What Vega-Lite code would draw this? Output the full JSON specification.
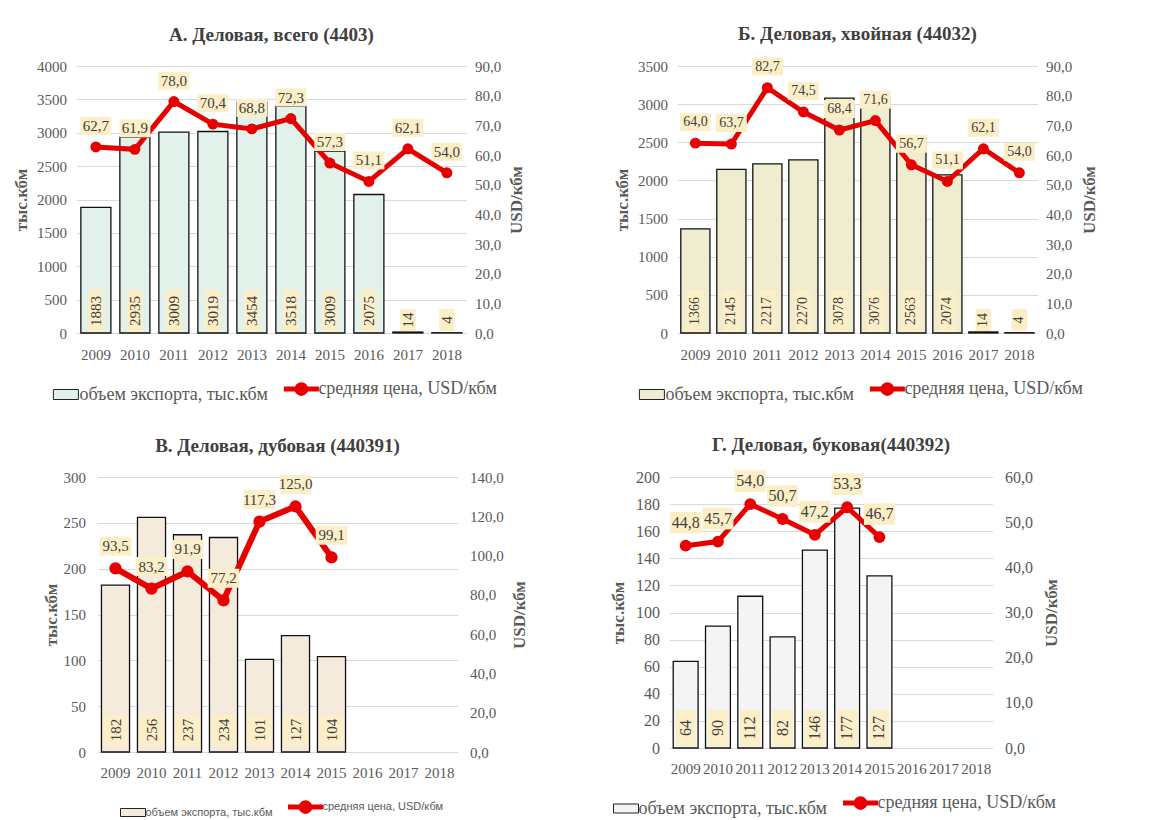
{
  "$schema": "https://vega.github.io/schema/vega-lite/v6.json",
  "padding": {"left": 12, "top": 24, "right": 5, "bottom": 5},
  "datasets": {
    "a": [
      {"year": 2009, "vol": 1883, "volLabel": 1883, "price": 62.7},
      {"year": 2010, "vol": 2935, "volLabel": 2935, "price": 61.9},
      {"year": 2011, "vol": 3009, "volLabel": 3009, "price": 78.0},
      {"year": 2012, "vol": 3019, "volLabel": 3019, "price": 70.4},
      {"year": 2013, "vol": 3454, "volLabel": 3454, "price": 68.8},
      {"year": 2014, "vol": 3400, "volLabel": 3518, "price": 72.3},
      {"year": 2015, "vol": 2725, "volLabel": 3009, "price": 57.3},
      {"year": 2016, "vol": 2075, "volLabel": 2075, "price": 51.1},
      {"year": 2017, "vol": 14, "volLabel": 14, "price": 62.1},
      {"year": 2018, "vol": 4, "volLabel": 4, "price": 54.0}
    ],
    "b": [
      {"year": 2009, "vol": 1366, "volLabel": 1366, "price": 64.0},
      {"year": 2010, "vol": 2145, "volLabel": 2145, "price": 63.7},
      {"year": 2011, "vol": 2217, "volLabel": 2217, "price": 82.7},
      {"year": 2012, "vol": 2270, "volLabel": 2270, "price": 74.5},
      {"year": 2013, "vol": 3078, "volLabel": 3078, "price": 68.4},
      {"year": 2014, "vol": 3076, "volLabel": 3076, "price": 71.6},
      {"year": 2015, "vol": 2563, "volLabel": 2563, "price": 56.7},
      {"year": 2016, "vol": 2074, "volLabel": 2074, "price": 51.1},
      {"year": 2017, "vol": 14, "volLabel": 14, "price": 62.1},
      {"year": 2018, "vol": 4, "volLabel": 4, "price": 54.0}
    ],
    "c": [
      {"year": 2009, "vol": 182, "volLabel": 182, "price": 93.5},
      {"year": 2010, "vol": 256, "volLabel": 256, "price": 83.2},
      {"year": 2011, "vol": 237, "volLabel": 237, "price": 91.9},
      {"year": 2012, "vol": 234, "volLabel": 234, "price": 77.2},
      {"year": 2013, "vol": 101, "volLabel": 101, "price": 117.3},
      {"year": 2014, "vol": 127, "volLabel": 127, "price": 125.0},
      {"year": 2015, "vol": 104, "volLabel": 104, "price": 99.1}
    ],
    "d": [
      {"year": 2009, "vol": 64, "volLabel": 64, "price": 44.8},
      {"year": 2010, "vol": 90, "volLabel": 90, "price": 45.7},
      {"year": 2011, "vol": 112, "volLabel": 112, "price": 54.0},
      {"year": 2012, "vol": 82, "volLabel": 82, "price": 50.7},
      {"year": 2013, "vol": 146, "volLabel": 146, "price": 47.2},
      {"year": 2014, "vol": 177, "volLabel": 177, "price": 53.3},
      {"year": 2015, "vol": 127, "volLabel": 127, "price": 46.7}
    ]
  },
  "vconcat": [
    {
      "hconcat": [
        {
          "title": "А. Деловая, всего (4403)",
          "data": {"name": "a"},
          "width": 390,
          "height": 267,
          "encoding": {
            "x": {"field": "year", "type": "ordinal", "scale": {"domain": [2009, 2010, 2011, 2012, 2013, 2014, 2015, 2016, 2017, 2018], "paddingInner": 0.23, "paddingOuter": 0.115}, "axis": {"labelPadding": 14}}
          },
          "layer": [
            {
              "layer": [
                {
                  "mark": {"type": "bar", "stroke": "#111111", "strokeWidth": 1.3},
                  "encoding": {
                    "y": {"field": "vol", "type": "quantitative", "scale": {"domain": [0, 4000]}, "axis": {"title": "тыс.кбм", "values": [0, 500, 1000, 1500, 2000, 2500, 3000, 3500, 4000], "format": "d", "labelPadding": 10, "titlePadding": 6}},
                    "fill": {"datum": "объем экспорта, тыс.кбм", "type": "nominal", "scale": {"range": ["#e3f1eb"]}, "legend": {"symbolType": "M-1.25,-0.5H1.25V0.5H-1.25Z", "symbolSize": 400, "symbolStrokeColor": "#222222", "symbolStrokeWidth": 1, "labelOffset": 3, "padding": 10, "labelFont": "Liberation Serif", "labelFontSize": 18}}
                  }
                },
                {
                  "transform": [{"filter": "datum.vol >= 1000"}],
                  "mark": {"type": "point", "shape": "M-0.36,-1H0.36V1H-0.36Z", "filled": true, "fill": "#fcefc8", "opacity": 1, "strokeWidth": 0, "size": 1764, "yOffset": -22},
                  "encoding": {"y": {"datum": 0, "type": "quantitative", "axis": {"title": "тыс.кбм", "values": [0, 500, 1000, 1500, 2000, 2500, 3000, 3500, 4000], "format": "d", "labelPadding": 10, "titlePadding": 6}}}
                },
                {
                  "transform": [{"filter": "datum.vol < 1000"}],
                  "mark": {"type": "point", "shape": "M-0.7,-1H0.7V1H-0.7Z", "filled": true, "fill": "#fcefc8", "opacity": 1, "strokeWidth": 0, "size": 484, "yOffset": -13},
                  "encoding": {"y": {"datum": 0, "type": "quantitative", "axis": {"title": "тыс.кбм", "values": [0, 500, 1000, 1500, 2000, 2500, 3000, 3500, 4000], "format": "d", "labelPadding": 10, "titlePadding": 6}}}
                },
                {
                  "transform": [{"filter": "datum.vol >= 1000"}],
                  "mark": {"type": "text", "angle": 270, "yOffset": -22, "fontSize": 15, "color": "#404040", "align": "center", "baseline": "middle"},
                  "encoding": {"y": {"datum": 0, "type": "quantitative", "axis": {"title": "тыс.кбм", "values": [0, 500, 1000, 1500, 2000, 2500, 3000, 3500, 4000], "format": "d", "labelPadding": 10, "titlePadding": 6}}, "text": {"field": "volLabel", "type": "quantitative", "format": "d"}}
                },
                {
                  "transform": [{"filter": "datum.vol < 1000"}],
                  "mark": {"type": "text", "angle": 270, "yOffset": -13, "fontSize": 15, "color": "#404040", "align": "center", "baseline": "middle"},
                  "encoding": {"y": {"datum": 0, "type": "quantitative", "axis": {"title": "тыс.кбм", "values": [0, 500, 1000, 1500, 2000, 2500, 3000, 3500, 4000], "format": "d", "labelPadding": 10, "titlePadding": 6}}, "text": {"field": "volLabel", "type": "quantitative", "format": "d"}}
                }
              ]
            },
            {
              "encoding": {
                "y": {"field": "price", "type": "quantitative", "scale": {"domain": [0, 90]}, "axis": {"orient": "right", "title": "USD/кбм", "values": [0, 10, 20, 30, 40, 50, 60, 70, 80, 90], "format": ".1f", "grid": false, "labelPadding": 8, "titlePadding": 8, "titleAngle": 270, "titleBaseline": "top"}}
              },
              "layer": [
                {
                  "mark": {"type": "line", "strokeWidth": 5, "point": {"filled": true, "size": 120, "fill": "#e60000", "strokeWidth": 0}},
                  "encoding": {
                    "stroke": {"datum": "средняя цена, USD/кбм", "type": "nominal", "scale": {"range": ["#e60000"]}, "legend": {"symbolType": "M-1.4,0H-0.35A0.35,0.35 0 1,1 0.35,0H1.4M0.35,0A0.35,0.35 0 1,1 -0.35,0", "symbolSize": 625, "symbolStrokeWidth": 5, "symbolFillColor": "#e60000", "labelOffset": 2, "labelFont": "Liberation Serif", "labelFontSize": 18}}
                  }
                },
                {
                  "mark": {"type": "point", "shape": "M-1,-0.58H1V0.58H-1Z", "filled": true, "fill": "#fcefc8", "opacity": 1, "strokeWidth": 0, "size": 961, "yOffset": -21}
                },
                {
                  "mark": {"type": "text", "yOffset": -21, "fontSize": 15, "color": "#404040", "align": "center", "baseline": "middle"},
                  "encoding": {"text": {"field": "price", "type": "quantitative", "format": ".1f"}}
                }
              ]
            }
          ],
          "resolve": {"scale": {"y": "independent"}}
        },
        {
          "title": "Б. Деловая, хвойная (44032)",
          "data": {"name": "b"},
          "width": 360,
          "height": 267,
          "encoding": {
            "x": {"field": "year", "type": "ordinal", "scale": {"domain": [2009, 2010, 2011, 2012, 2013, 2014, 2015, 2016, 2017, 2018], "paddingInner": 0.19, "paddingOuter": 0.095}, "axis": {"labelPadding": 14}}
          },
          "layer": [
            {
              "layer": [
                {
                  "mark": {"type": "bar", "stroke": "#111111", "strokeWidth": 1.3},
                  "encoding": {
                    "y": {"field": "vol", "type": "quantitative", "scale": {"domain": [0, 3500]}, "axis": {"title": "тыс.кбм", "values": [0, 500, 1000, 1500, 2000, 2500, 3000, 3500], "format": "d", "labelPadding": 10, "titlePadding": 6}},
                    "fill": {"datum": "объем экспорта, тыс.кбм", "type": "nominal", "scale": {"range": ["#f0eccf"]}, "legend": {"symbolType": "M-1.25,-0.5H1.25V0.5H-1.25Z", "symbolSize": 400, "symbolStrokeColor": "#222222", "symbolStrokeWidth": 1, "labelOffset": 3, "padding": 10, "labelFont": "Liberation Serif", "labelFontSize": 18}}
                  }
                },
                {
                  "transform": [{"filter": "datum.vol >= 1000"}],
                  "mark": {"type": "point", "shape": "M-0.4,-1H0.4V1H-0.4Z", "filled": true, "fill": "#fcefc8", "opacity": 1, "strokeWidth": 0, "size": 1764, "yOffset": -22},
                  "encoding": {"y": {"datum": 0, "type": "quantitative", "axis": {"title": "тыс.кбм", "values": [0, 500, 1000, 1500, 2000, 2500, 3000, 3500], "format": "d", "labelPadding": 10, "titlePadding": 6}}}
                },
                {
                  "transform": [{"filter": "datum.vol < 1000"}],
                  "mark": {"type": "point", "shape": "M-0.7,-1H0.7V1H-0.7Z", "filled": true, "fill": "#fcefc8", "opacity": 1, "strokeWidth": 0, "size": 484, "yOffset": -13},
                  "encoding": {"y": {"datum": 0, "type": "quantitative", "axis": {"title": "тыс.кбм", "values": [0, 500, 1000, 1500, 2000, 2500, 3000, 3500], "format": "d", "labelPadding": 10, "titlePadding": 6}}}
                },
                {
                  "transform": [{"filter": "datum.vol >= 1000"}],
                  "mark": {"type": "text", "angle": 270, "yOffset": -22, "fontSize": 14, "color": "#404040", "align": "center", "baseline": "middle"},
                  "encoding": {"y": {"datum": 0, "type": "quantitative", "axis": {"title": "тыс.кбм", "values": [0, 500, 1000, 1500, 2000, 2500, 3000, 3500], "format": "d", "labelPadding": 10, "titlePadding": 6}}, "text": {"field": "volLabel", "type": "quantitative", "format": "d"}}
                },
                {
                  "transform": [{"filter": "datum.vol < 1000"}],
                  "mark": {"type": "text", "angle": 270, "yOffset": -13, "fontSize": 14, "color": "#404040", "align": "center", "baseline": "middle"},
                  "encoding": {"y": {"datum": 0, "type": "quantitative", "axis": {"title": "тыс.кбм", "values": [0, 500, 1000, 1500, 2000, 2500, 3000, 3500], "format": "d", "labelPadding": 10, "titlePadding": 6}}, "text": {"field": "volLabel", "type": "quantitative", "format": "d"}}
                }
              ]
            },
            {
              "encoding": {
                "y": {"field": "price", "type": "quantitative", "scale": {"domain": [0, 90]}, "axis": {"orient": "right", "title": "USD/кбм", "values": [0, 10, 20, 30, 40, 50, 60, 70, 80, 90], "format": ".1f", "grid": false, "labelPadding": 8, "titlePadding": 10, "titleAngle": 270, "titleBaseline": "top"}}
              },
              "layer": [
                {
                  "mark": {"type": "line", "strokeWidth": 5, "point": {"filled": true, "size": 120, "fill": "#e60000", "strokeWidth": 0}},
                  "encoding": {
                    "stroke": {"datum": "средняя цена, USD/кбм", "type": "nominal", "scale": {"range": ["#e60000"]}, "legend": {"symbolType": "M-1.4,0H-0.35A0.35,0.35 0 1,1 0.35,0H1.4M0.35,0A0.35,0.35 0 1,1 -0.35,0", "symbolSize": 625, "symbolStrokeWidth": 5, "symbolFillColor": "#e60000", "labelOffset": 2, "labelFont": "Liberation Serif", "labelFontSize": 18}}
                  }
                },
                {
                  "mark": {"type": "point", "shape": "M-1,-0.58H1V0.58H-1Z", "filled": true, "fill": "#fcefc8", "opacity": 1, "strokeWidth": 0, "size": 961, "yOffset": -21}
                },
                {
                  "mark": {"type": "text", "yOffset": -21, "fontSize": 14, "color": "#404040", "align": "center", "baseline": "middle"},
                  "encoding": {"text": {"field": "price", "type": "quantitative", "format": ".1f"}}
                }
              ]
            }
          ],
          "resolve": {"scale": {"y": "independent"}}
        }
      ],
      "spacing": 88,
      "resolve": {"scale": {"fill": "independent", "stroke": "independent"}}
    },
    {
      "title": {"text": " ", "orient": "right", "offset": 4, "fontSize": 12},
      "hconcat": [
        {
          "title": "В. Деловая, дубовая (440391)",
          "data": {"name": "c"},
          "width": 360,
          "height": 275,
          "encoding": {
            "x": {"field": "year", "type": "ordinal", "scale": {"domain": [2009, 2010, 2011, 2012, 2013, 2014, 2015, 2016, 2017, 2018], "paddingInner": 0.22, "paddingOuter": 0.11}, "axis": {"labelPadding": 13}}
          },
          "layer": [
            {
              "layer": [
                {
                  "mark": {"type": "bar", "stroke": "#111111", "strokeWidth": 1.3},
                  "encoding": {
                    "y": {"field": "vol", "type": "quantitative", "scale": {"domain": [0, 300]}, "axis": {"title": "тыс.кбм", "values": [0, 50, 100, 150, 200, 250, 300], "format": "d", "labelPadding": 12, "titlePadding": 3}},
                    "fill": {"datum": "объем экспорта, тыс.кбм", "type": "nominal", "scale": {"range": ["#f5ebdd"]}, "legend": {"symbolType": "M-1.25,-0.4H1.25V0.4H-1.25Z", "symbolSize": 400, "symbolStrokeColor": "#222222", "symbolStrokeWidth": 1, "labelOffset": 2, "padding": 10, "labelFont": "Liberation Sans", "labelFontSize": 11}}
                  }
                },
                {
                  "mark": {"type": "point", "shape": "M-0.8,-1H0.8V1H-0.8Z", "filled": true, "fill": "#fcefc8", "opacity": 1, "strokeWidth": 0, "size": 900, "yOffset": -22},
                  "encoding": {"y": {"datum": 0, "type": "quantitative", "axis": {"title": "тыс.кбм", "values": [0, 50, 100, 150, 200, 250, 300], "format": "d", "labelPadding": 12, "titlePadding": 3}}}
                },
                {
                  "mark": {"type": "text", "angle": 270, "yOffset": -22, "fontSize": 15, "color": "#404040", "align": "center", "baseline": "middle"},
                  "encoding": {"y": {"datum": 0, "type": "quantitative", "axis": {"title": "тыс.кбм", "values": [0, 50, 100, 150, 200, 250, 300], "format": "d", "labelPadding": 12, "titlePadding": 3}}, "text": {"field": "volLabel", "type": "quantitative", "format": "d"}}
                }
              ]
            },
            {
              "encoding": {
                "y": {"field": "price", "type": "quantitative", "scale": {"domain": [0, 140]}, "axis": {"orient": "right", "title": "USD/кбм", "values": [0, 20, 40, 60, 80, 100, 120, 140], "format": ".1f", "grid": false, "labelPadding": 12, "titlePadding": 8, "titleAngle": 270, "titleBaseline": "top"}}
              },
              "layer": [
                {
                  "mark": {"type": "line", "strokeWidth": 6, "point": {"filled": true, "size": 150, "fill": "#e60000", "strokeWidth": 0}},
                  "encoding": {
                    "stroke": {"datum": "средняя цена, USD/кбм", "type": "nominal", "scale": {"range": ["#e60000"]}, "legend": {"symbolType": "M-1.4,0H-0.35A0.35,0.35 0 1,1 0.35,0H1.4M0.35,0A0.35,0.35 0 1,1 -0.35,0", "symbolSize": 625, "symbolStrokeWidth": 5, "symbolFillColor": "#e60000", "labelOffset": 2, "labelFont": "Liberation Sans", "labelFontSize": 11}}
                  }
                },
                {
                  "mark": {"type": "point", "shape": "M-1,-0.6H1V0.6H-1Z", "filled": true, "fill": "#fcefc8", "opacity": 1, "strokeWidth": 0, "size": 1000, "yOffset": -22}
                },
                {
                  "mark": {"type": "text", "yOffset": -22, "fontSize": 15, "color": "#404040", "align": "center", "baseline": "middle"},
                  "encoding": {"text": {"field": "price", "type": "quantitative", "format": ".1f"}}
                }
              ]
            }
          ],
          "resolve": {"scale": {"y": "independent"}}
        },
        {
          "title": "Г. Деловая, буковая(440392)",
          "data": {"name": "d"},
          "width": 323,
          "height": 271,
          "encoding": {
            "x": {"field": "year", "type": "ordinal", "scale": {"domain": [2009, 2010, 2011, 2012, 2013, 2014, 2015, 2016, 2017, 2018], "paddingInner": 0.23, "paddingOuter": 0.115}, "axis": {"labelPadding": 13, "labelFontSize": 15}}
          },
          "layer": [
            {
              "layer": [
                {
                  "mark": {"type": "bar", "stroke": "#111111", "strokeWidth": 1.3},
                  "encoding": {
                    "y": {"field": "vol", "type": "quantitative", "scale": {"domain": [0, 200]}, "axis": {"title": "тыс.кбм", "values": [0, 20, 40, 60, 80, 100, 120, 140, 160, 180, 200], "format": "d", "labelPadding": 10, "titlePadding": 8, "labelFontSize": 16}},
                    "fill": {"datum": "объем экспорта, тыс.кбм", "type": "nominal", "scale": {"range": ["#f4f4f4"]}, "legend": {"symbolType": "M-1.25,-0.45H1.25V0.45H-1.25Z", "symbolSize": 400, "symbolStrokeColor": "#222222", "symbolStrokeWidth": 1, "labelOffset": 2, "padding": 10, "labelFont": "Liberation Serif", "labelFontSize": 18}}
                  }
                },
                {
                  "mark": {"type": "point", "shape": "M-0.55,-1H0.55V1H-0.55Z", "filled": true, "fill": "#fcefc8", "opacity": 1, "strokeWidth": 0, "size": 1296, "yOffset": -20},
                  "encoding": {"y": {"datum": 0, "type": "quantitative", "axis": {"title": "тыс.кбм", "values": [0, 20, 40, 60, 80, 100, 120, 140, 160, 180, 200], "format": "d", "labelPadding": 10, "titlePadding": 8, "labelFontSize": 16}}}
                },
                {
                  "mark": {"type": "text", "angle": 270, "yOffset": -20, "fontSize": 16, "color": "#404040", "align": "center", "baseline": "middle"},
                  "encoding": {"y": {"datum": 0, "type": "quantitative", "axis": {"title": "тыс.кбм", "values": [0, 20, 40, 60, 80, 100, 120, 140, 160, 180, 200], "format": "d", "labelPadding": 10, "titlePadding": 8, "labelFontSize": 16}}, "text": {"field": "volLabel", "type": "quantitative", "format": "d"}}
                }
              ]
            },
            {
              "encoding": {
                "y": {"field": "price", "type": "quantitative", "scale": {"domain": [0, 60]}, "axis": {"orient": "right", "title": "USD/кбм", "values": [0, 10, 20, 30, 40, 50, 60], "format": ".1f", "grid": false, "labelPadding": 12, "titlePadding": 11, "titleAngle": 270, "titleBaseline": "top", "labelFontSize": 16}}
              },
              "layer": [
                {
                  "mark": {"type": "line", "strokeWidth": 5, "point": {"filled": true, "size": 140, "fill": "#e60000", "strokeWidth": 0}},
                  "encoding": {
                    "stroke": {"datum": "средняя цена, USD/кбм", "type": "nominal", "scale": {"range": ["#e60000"]}, "legend": {"symbolType": "M-1.4,0H-0.35A0.35,0.35 0 1,1 0.35,0H1.4M0.35,0A0.35,0.35 0 1,1 -0.35,0", "symbolSize": 625, "symbolStrokeWidth": 5, "symbolFillColor": "#e60000", "labelOffset": 2, "labelFont": "Liberation Serif", "labelFontSize": 18}}
                  }
                },
                {
                  "mark": {"type": "point", "shape": "M-1,-0.7H1V0.7H-1Z", "filled": true, "fill": "#fcefc8", "opacity": 1, "strokeWidth": 0, "size": 961, "yOffset": -23}
                },
                {
                  "mark": {"type": "text", "yOffset": -23, "fontSize": 16, "color": "#404040", "align": "center", "baseline": "middle"},
                  "encoding": {"text": {"field": "price", "type": "quantitative", "format": ".1f"}}
                }
              ]
            }
          ],
          "resolve": {"scale": {"y": "independent"}}
        }
      ],
      "spacing": 78,
      "resolve": {"scale": {"fill": "independent", "stroke": "independent"}}
    }
  ],
  "spacing": 22,
  "center": true,
  "resolve": {"scale": {"fill": "independent", "stroke": "independent"}},
  "config": {
    "font": "Liberation Serif",
    "view": {"stroke": null},
    "locale": {"number": {"decimal": ",", "thousands": "", "grouping": [3], "currency": ["", ""]}},
    "axis": {"labelFont": "Liberation Serif", "labelFontSize": 15, "labelColor": "#595959", "titleFont": "Liberation Serif", "titleFontSize": 17, "titleFontWeight": "bold", "titleColor": "#595959", "gridColor": "#d9d9d9", "domain": false, "ticks": false, "labelOverlap": false},
    "axisX": {"labelAngle": 0, "title": null, "grid": false},
    "title": {"font": "Liberation Serif", "fontSize": 19, "fontWeight": "bold", "color": "#404040", "anchor": "middle", "offset": 14},
    "legend": {"orient": "bottom", "title": null, "labelFont": "Liberation Serif", "labelFontSize": 16, "labelColor": "#595959", "labelLimit": 400, "offset": 12, "layout": {"anchor": "middle"}},
    "text": {"font": "Liberation Serif"}
  }
}
